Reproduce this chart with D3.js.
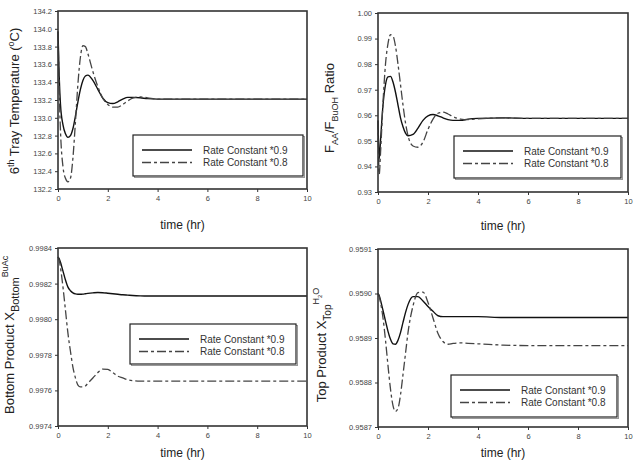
<!DOCTYPE html>
<html>
<head>
<meta charset="utf-8">
<script src="https://cdn.jsdelivr.net/npm/d3@7"></script>
<style>
  body { margin: 0; background: #fff; }
  svg { display: block; font-family: "Liberation Sans", Arial, sans-serif; }
</style>
</head>
<body>
<div id="main"></div>
<script>
//////////
// DATA //
//////////

const time = [0, 0.05, 0.1, 0.2, 0.3, 0.4, 0.5, 0.6, 0.7, 0.8, 0.9, 1.0, 1.1, 1.2, 1.4, 1.6,
  1.8, 2.0, 2.2, 2.4, 2.6, 2.8, 3.0, 3.3, 3.6, 4, 5, 6, 7, 8, 10]

const seriesNames = ['Rate Constant *0.9', 'Rate Constant *0.8']

// 6th tray temperature
const tempK09 = [133.97, 133.45, 133.15, 132.92, 132.82, 132.78, 132.80, 132.88, 133.02, 133.18,
  133.32, 133.42, 133.47, 133.48, 133.42, 133.32, 133.22, 133.17, 133.16, 133.18, 133.21, 133.23,
  133.23, 133.225, 133.215, 133.21, 133.21, 133.21, 133.21, 133.21, 133.21]
const tempK08 = [133.97, 133.30, 132.85, 132.45, 132.32, 132.28, 132.32, 132.55, 132.95, 133.38,
  133.68, 133.81, 133.80, 133.72, 133.52, 133.35, 133.22, 133.15, 133.12, 133.12, 133.15, 133.19,
  133.22, 133.235, 133.225, 133.21, 133.21, 133.21, 133.21, 133.21, 133.21]

// F_AA / F_BuOH ratio
const ratioK09 = [0.958, 0.943, 0.950, 0.964, 0.972, 0.975, 0.9752, 0.973, 0.969, 0.964, 0.959,
  0.9555, 0.953, 0.952, 0.9525, 0.955, 0.958, 0.9598, 0.9603, 0.9598, 0.959, 0.9583, 0.958, 0.958,
  0.9585, 0.9588, 0.959, 0.9588, 0.9588, 0.9588, 0.9588]
const ratioK08 = [0.958, 0.937, 0.945, 0.965, 0.980, 0.988, 0.9915, 0.991, 0.987, 0.980, 0.972,
  0.964, 0.957, 0.952, 0.948, 0.9475, 0.9495, 0.9545, 0.9585, 0.9608, 0.9612, 0.9605, 0.9595,
  0.9585, 0.9583, 0.9586, 0.959, 0.9588, 0.9588, 0.9588, 0.9588]

// bottom product purity
const bottomK09 = [0.99835, 0.99834, 0.99832, 0.99827, 0.99822, 0.99818, 0.99816, 0.998148,
  0.998142, 0.99814, 0.99814, 0.998141, 0.998143, 0.998145, 0.998148, 0.99815, 0.998149, 0.998146,
  0.998143, 0.99814, 0.998137, 0.998135, 0.998133, 0.998131, 0.99813, 0.99813, 0.99813, 0.99813,
  0.99813, 0.99813, 0.99813]
const bottomK08 = [0.99835, 0.99833, 0.99829, 0.99818, 0.99805, 0.99792, 0.99782, 0.99773,
  0.99767, 0.99763, 0.99762, 0.99762, 0.997625, 0.99764, 0.99767, 0.9977, 0.99772, 0.997718,
  0.9977, 0.99768, 0.99767, 0.99766, 0.997655, 0.997652, 0.997652, 0.997652, 0.997652, 0.997652,
  0.997652, 0.997652, 0.997652]

// top product water
const topK09 = [0.95900, 0.958995, 0.958985, 0.958962, 0.958938, 0.958915, 0.958897, 0.958887,
  0.958886, 0.958895, 0.958912, 0.958935, 0.958957, 0.958975, 0.958993, 0.958993, 0.958983,
  0.958971, 0.95896, 0.95895, 0.958948, 0.958948, 0.958948, 0.958948, 0.958948, 0.958948,
  0.958946, 0.958946, 0.958946, 0.958946, 0.958946]
const topK08 = [0.95900, 0.958993, 0.95898, 0.958945, 0.958895, 0.958838, 0.958785, 0.958748,
  0.958735, 0.958742, 0.958772, 0.958818, 0.958865, 0.958912, 0.958972, 0.959002, 0.959003,
  0.95898, 0.958945, 0.95891, 0.958892, 0.958886, 0.958888, 0.958889, 0.958888, 0.958887,
  0.958884, 0.958883, 0.958883, 0.958883, 0.958883]

const xTicks = [0, 2, 4, 6, 8, 10]
const tempTicks = d3.range(0, 11).map(i => 132.2 + i * 0.2)
const ratioTicks = [0.93, 0.94, 0.95, 0.96, 0.97, 0.98, 0.99, 1.00]
const bottomTicks = [0.9974, 0.9976, 0.9978, 0.9980, 0.9982, 0.9984]
const topTicks = [0.9587, 0.9588, 0.9589, 0.9590, 0.9591]

///////////
// SETUP //
///////////

const width = 635
const height = 460
const dash = '9,3,3,3'

const panels = [
  { box: [58, 11, 307, 189], domain: [132.2, 134.2], ticks: tempTicks, fmt: '.1f',
    series: [tempK09, tempK08], legend: [133, 135, 303, 176], xTitleY: 229,
    yTitle: { x: 19, y: 101, parts: [['6', 13, 0], ['th', 9, -5], [' Tray Temperature (', 13, 5], ['o', 9, -5], ['C)', 13, 5]] } },
  { box: [378, 13, 628, 192], domain: [0.93, 1.00], ticks: ratioTicks, fmt: '.2f',
    series: [ratioK09, ratioK08], legend: [454, 136, 621, 178], xTitleY: 230,
    yTitle: { x: 334, y: 108, parts: [['F', 13, 0], ['AA', 9, 4], ['/F', 13, -4], ['BuOH', 9, 4], [' Ratio', 13, -4]] } },
  { box: [58, 248, 307, 426], domain: [0.9974, 0.9984], ticks: bottomTicks, fmt: '.4f',
    series: [bottomK09, bottomK08], legend: [130, 324, 296, 364], xTitleY: 457, clip: true,
    yTitle: { x: 14, y: 414, anchor: 'start',
      parts: [['Bottom Product  X', 13, 0], ['Bottom', 11, 5], ['BuAc', 9, -11]] } },
  { box: [378, 249, 628, 427], domain: [0.9587, 0.9591], ticks: topTicks, fmt: '.4f',
    series: [topK09, topK08], legend: [451, 375, 617, 417], xTitleY: 457,
    yTitle: { x: 326, y: 345, parts: [['Top Product  X', 13, 0], ['Top', 10, 5], ['H', 9, -12], ['2', 6, 3], ['O', 9, -3]] } }
]

let svg = d3.select('#main').append('svg')
  .attr('width', width)
  .attr('height', height)

svg.append('defs').append('clipPath').attr('id', 'clipBL')
  .append('rect').attr('x', 0).attr('y', 227).attr('width', 60).attr('height', 230)

//////////
// DRAW //
//////////

panels.forEach(function (p, i) {
  const [x0, y0, x1, y1] = p.box
  const x = d3.scaleLinear().domain([0, 10]).range([x0, x1])
  const y = d3.scaleLinear().domain(p.domain).range([y1, y0])
  const g = svg.append('g')

  // axes
  const xAxis = g.append('g')
    .attr('transform', `translate(0,${y1})`)
    .call(d3.axisBottom(x).tickValues(xTicks).tickSize(3).tickPadding(4).tickFormat(d3.format('d')))
  const yAxis = g.append('g')
    .attr('transform', `translate(${x0},0)`)
    .call(d3.axisLeft(y).tickValues(p.ticks).tickSize(3).tickPadding(3).tickFormat(d3.format(p.fmt)))
  ;[xAxis, yAxis].forEach(a => {
    a.select('.domain').remove()
    a.selectAll('line').attr('stroke', '#333')
    a.selectAll('text').attr('fill', '#444').style('font-size', '7.5px')
  })

  // lines
  const line = d3.line()
    .x((d, k) => x(time[k]))
    .y(d => y(d))
    .curve(d3.curveMonotoneX)
  p.series.forEach(function (s, k) {
    g.append('path')
      .attr('d', line(s))
      .attr('fill', 'none')
      .attr('stroke', k === 0 ? '#111' : '#444')
      .attr('stroke-width', k === 0 ? 1.4 : 1.3)
      .attr('stroke-dasharray', k === 0 ? null : dash)
  })

  // frame
  g.append('rect')
    .attr('x', x0).attr('y', y0)
    .attr('width', x1 - x0).attr('height', y1 - y0)
    .attr('fill', 'none')
    .attr('stroke', '#333')
    .attr('stroke-width', 1.6)

  // legend
  const [lx0, ly0, lx1, ly1] = p.legend
  g.append('rect')
    .attr('x', lx0 + 1.5).attr('y', ly0 + 1.5)
    .attr('width', lx1 - lx0).attr('height', ly1 - ly0)
    .attr('fill', 'none').attr('stroke', '#999').attr('stroke-width', 1)
  g.append('rect')
    .attr('x', lx0).attr('y', ly0)
    .attr('width', lx1 - lx0).attr('height', ly1 - ly0)
    .attr('fill', '#fff').attr('stroke', '#222').attr('stroke-width', 1.2)
  seriesNames.forEach(function (name, k) {
    const ly = ly0 + 15 + k * 12.5
    g.append('line')
      .attr('x1', lx0 + 9).attr('x2', lx0 + 59)
      .attr('y1', ly).attr('y2', ly)
      .attr('stroke', k === 0 ? '#111' : '#444')
      .attr('stroke-width', k === 0 ? 1.4 : 1.3)
      .attr('stroke-dasharray', k === 0 ? null : dash)
    g.append('text')
      .attr('x', lx0 + 70).attr('y', ly + 3.5)
      .attr('fill', '#333')
      .style('font-size', '10px')
      .text(name)
  })

  // x title
  g.append('text')
    .attr('x', (x0 + x1) / 2).attr('y', p.xTitleY)
    .attr('text-anchor', 'middle')
    .attr('fill', '#222')
    .style('font-size', '12px')
    .text('time (hr)')

  // y title
  const t = p.yTitle
  const holder = p.clip ? svg.append('g').attr('clip-path', 'url(#clipBL)') : g
  const yt = holder.append('text')
    .attr('transform', `translate(${t.x},${t.y}) rotate(-90)`)
    .attr('text-anchor', t.anchor === 'start' ? 'start' : 'middle')
    .attr('fill', '#222')
  t.parts.forEach(function (part) {
    yt.append('tspan')
      .attr('dy', part[2])
      .style('font-size', part[1] + 'px')
      .text(part[0])
  })
})
</script>
</body>
</html>
